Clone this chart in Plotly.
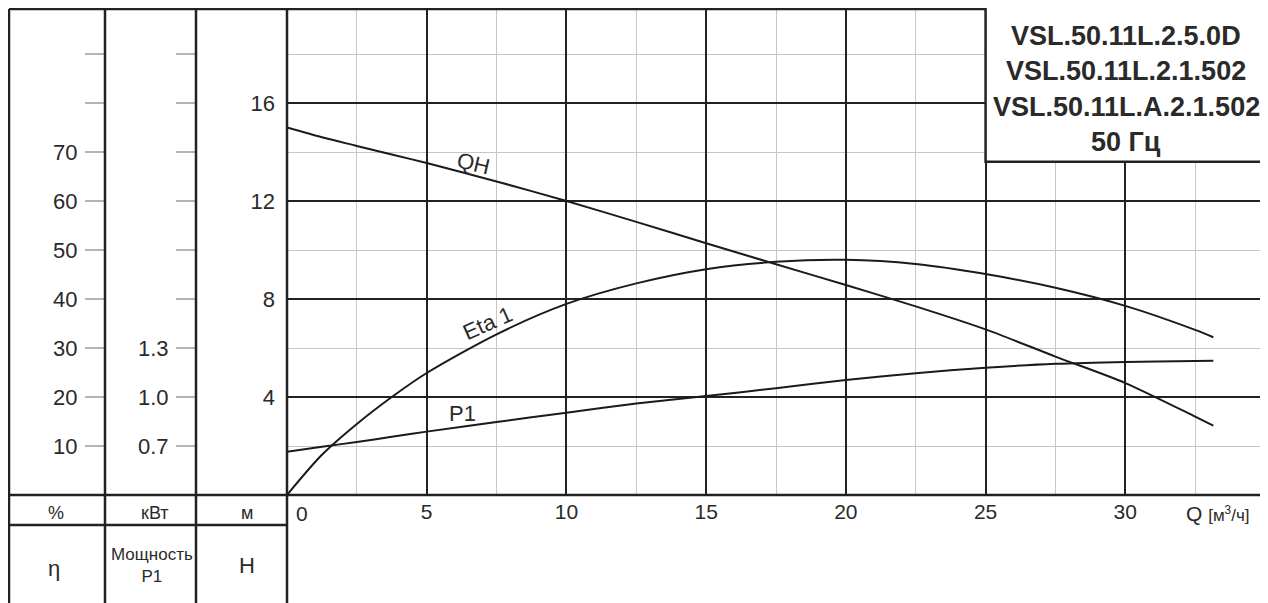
import plotly.graph_objects as go

# pump curve data
q = [0, 1.25, 2.5, 3.75, 5, 7.5, 10, 12.5, 15, 17.5, 20, 22.5, 25, 27.5, 30, 32.5, 33.15]
head = [15.0, 14.6, 14.25, 13.9, 13.55, 12.8, 12.0, 11.15, 10.28, 9.42, 8.57, 7.7, 6.76, 5.65, 4.57, 3.2, 2.83]
eta = [0, 8.2, 14.5, 20.0, 24.9, 32.8, 39.0, 43.2, 46.1, 47.6, 48.0, 47.15, 45.1, 42.3, 38.6, 33.7, 32.2]
p1 = [0.665, 0.695, 0.725, 0.756, 0.788, 0.847, 0.904, 0.960, 1.006, 1.054, 1.104, 1.146, 1.179, 1.203, 1.215, 1.221, 1.222]

q_ticks = [0, 5, 10, 15, 20, 25, 30, 35]
q_labels = ['', '5', '10', '15', '20', '25', '30', '']
h_ticks = [0, 4, 8, 12, 16, 20]
h_labels = ['', '4', '8', '12', '16', '']
eta_ticks = [10, 20, 30, 40, 50, 60, 70, 80, 90]
eta_labels = ['10', '20', '30', '40', '50', '60', '70', '', '']
p_ticks = [0.7, 1.0, 1.3, 1.6, 1.9, 2.2, 2.5, 2.8, 3.1]
p_labels = ['0.7', '1.0', '1.3', '', '', '', '', '', '']

models = ['VSL.50.11L.2.5.0D', 'VSL.50.11L.2.1.502', 'VSL.50.11L.A.2.1.502', '50 Гц']

# page is 1268x603 but the html body adds an 8px margin
OFF = 8
W, H = 1260, 595
h_top = 19.88   # head at the upper edge of the grid
ARIAL = 'Liberation Sans, Arial, sans-serif'
DARK = '#222222'
INK = '#2a2a2a'
MINOR = '#c6c6c6'


def px(x):
    return (x - OFF) / W


def py(y):
    return 1 - (y - OFF) / H


fig = go.Figure()
line = dict(color='#1a1a1a', width=2, shape='spline', smoothing=0.8)
fig.add_trace(go.Scatter(x=q, y=head, mode='lines', line=line, name='QH'))
fig.add_trace(go.Scatter(x=q, y=eta, mode='lines', line=line, name='Eta 1', yaxis='y2'))
fig.add_trace(go.Scatter(x=q, y=p1, mode='lines', line=line, name='P1', yaxis='y3'))

side_axis = dict(
    overlaying='y', anchor='free', side='left', tickmode='array',
    ticks='outside', ticklen=20, tickwidth=1.5, tickcolor='#b4b4b4',
    showgrid=False, zeroline=False, showline=False,
    tickfont=dict(family=ARIAL, size=22, color=INK),
    ticklabelstandoff=3,
)

fig.update_layout(
    width=W, height=H,
    margin=dict(l=0, r=0, t=0, b=0),
    paper_bgcolor='white', plot_bgcolor='white',
    showlegend=False,
    xaxis=dict(
        domain=[px(287), px(1265)], range=[0, 35],
        tickmode='array', tickvals=q_ticks, ticktext=q_labels,
        showgrid=True, gridcolor=DARK, gridwidth=2,
        minor=dict(tickmode='array', tickvals=[2.5, 7.5, 12.5, 17.5, 22.5, 27.5, 32.5],
                   showgrid=True, gridcolor=MINOR, gridwidth=1),
        zeroline=False, showline=False, ticks='',
        tickfont=dict(family=ARIAL, size=21, color=INK),
        ticklabelstandoff=2,
    ),
    yaxis=dict(
        domain=[py(495), 1], range=[0, h_top],
        tickmode='array', tickvals=h_ticks, ticktext=h_labels,
        showgrid=True, gridcolor=DARK, gridwidth=2,
        minor=dict(tickmode='array', tickvals=[2, 6, 10, 14, 18],
                   showgrid=True, gridcolor=MINOR, gridwidth=1),
        zeroline=False, showline=False, ticks='',
        tickfont=dict(family=ARIAL, size=22, color=INK),
        ticklabelstandoff=11,
    ),
    yaxis2=dict(side_axis, position=px(105), range=[0, 5 * h_top],
                tickvals=eta_ticks, ticktext=eta_labels),
    yaxis3=dict(side_axis, position=px(196), range=[0.4, 0.4 + 0.15 * h_top],
                tickvals=p_ticks, ticktext=p_labels),
)

# table frame around the chart
frame = dict(color=DARK, width=2.5)
shapes = [
    dict(type='line', xref='paper', yref='paper', x0=px(9), x1=px(1265), y0=py(9), y1=py(9), line=frame),
    dict(type='line', xref='paper', yref='paper', x0=px(9), x1=px(1265), y0=py(495), y1=py(495), line=frame),
    dict(type='line', xref='paper', yref='paper', x0=px(9), x1=px(287), y0=py(525), y1=py(525), line=frame),
]
for xv in [9, 105, 196, 287, 1265]:
    shapes.append(dict(type='line', xref='paper', yref='paper', x0=px(xv), x1=px(xv),
                       y0=py(9), y1=py(610), line=frame))
# model name box
shapes.append(dict(type='rect', xref='x', yref='y', x0=25, x1=35, y0=13.6, y1=21,
                   fillcolor='white', line=frame, layer='above'))
fig.update_layout(shapes=shapes)


def label(text, x, y, size, xref='paper', yref='paper', **kw):
    return dict(text=text, x=x, y=y, xref=xref, yref=yref, xanchor=kw.pop('xanchor', 'center'),
                yanchor='middle', showarrow=False, font=dict(family=ARIAL, size=size, color=INK), **kw)


ann = []
for txt, yc in zip(models, [36, 71, 107, 142]):
    ann.append(label('<b>' + txt + '</b>', px(1126), py(yc), 27))

# curve names
ann.append(label('QH', 6.67, 13.54, 22, 'x', 'y', textangle=13))
ann.append(label('Eta 1', 7.16, 7.0, 22, 'x', 'y', textangle=-24))
ann.append(label('P1', 6.28, 3.31, 22, 'x', 'y'))

# x axis start label and unit
ann.append(label('0', 0, py(513), 21, 'x', 'paper', xanchor='left', xshift=7))
ann.append(label("Q <span style='font-size:17px'>[м<sup>3</sup>/ч]</span>", px(1218), py(513), 21))

# unit row and axis names
for txt, xc in [('%', 56), ('кВт', 155), ('м', 247)]:
    ann.append(label(txt, px(xc), py(513), 18))
ann.append(label('η', px(54), py(568), 22))
ann.append(label('Мощность<br>P1', px(152), py(565), 17))
ann.append(label('H', px(247), py(565), 22))
fig.update_layout(annotations=ann)

fig.write_html("out.html")
